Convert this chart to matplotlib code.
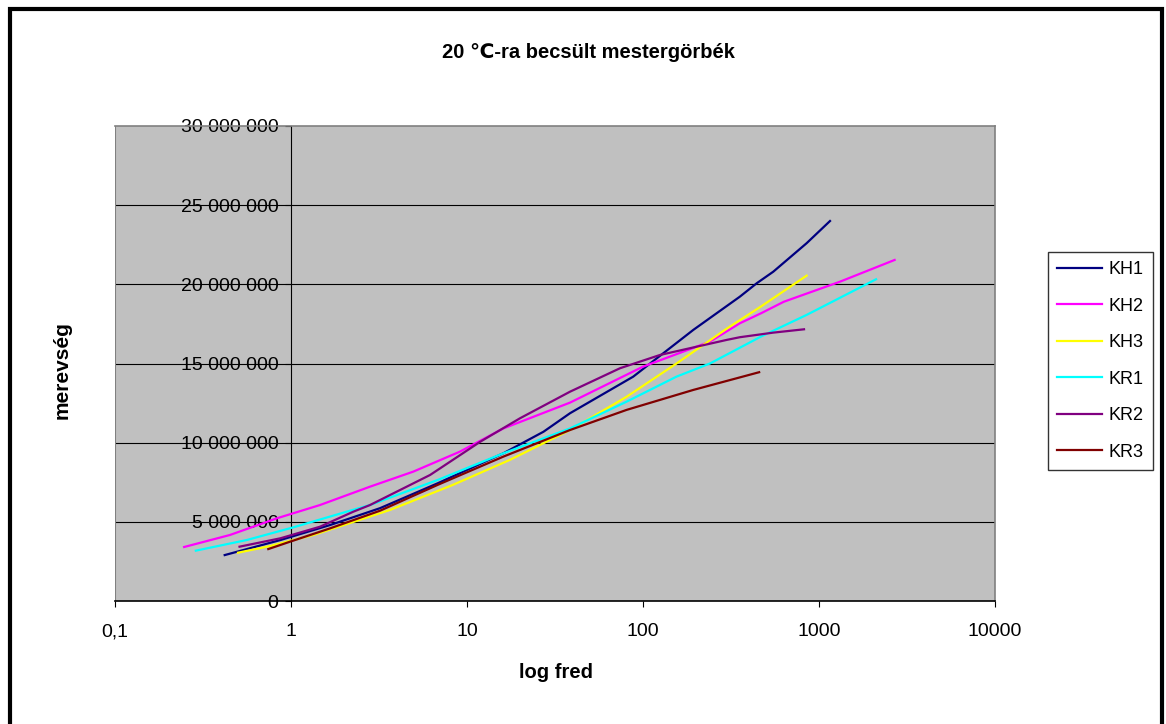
import numpy as np
import matplotlib
matplotlib.use("Agg")
import matplotlib.pyplot as plt
from matplotlib.patches import Rectangle
from matplotlib.ticker import FuncFormatter

plt.rcParams["font.family"] = ["Liberation Sans", "DejaVu Sans"]

# ── data (frequency, stiffness in millions) ──────────────────────────────────

SERIES = ["KH1", "KH2", "KH3", "KR1", "KR2", "KR3"]
COLORS = ["#000080", "#FF00FF", "#FFFF00", "#00FFFF", "#800080", "#800000"]

kh1_f = [0.42, 0.87, 1.67, 3.2, 6.8, 16.1, 27.2, 38.5, 88, 193, 355, 443, 550, 851, 1155]
kh1_v = [2.9, 3.85, 4.8, 5.86, 7.43, 9.33, 10.69, 11.86, 14.17, 17.12, 19.22, 20.07, 20.8, 22.6, 24.0]

kh2_f = [0.247, 0.45, 0.83, 1.46, 2.81, 4.95, 9.1, 16.1, 38.5, 100, 240, 355, 468, 631, 1318, 2690]
kh2_v = [3.41, 4.17, 5.22, 6.06, 7.22, 8.17, 9.43, 10.9, 12.53, 14.8, 16.38, 17.54, 18.17, 18.9, 20.17, 21.54]

kh3_f = [0.50, 0.76, 1.34, 3.65, 8.3, 17.5, 38.5, 80.7, 155, 299, 468, 851]
kh3_v = [3.05, 3.47, 4.17, 5.75, 7.33, 8.91, 10.8, 12.9, 15.0, 17.2, 18.6, 20.55]

kr1_f = [0.288, 0.56, 1.03, 2.07, 2.81, 6.8, 16.1, 38.5, 80.7, 155, 240, 468, 851, 2109]
kr1_v = [3.18, 3.85, 4.65, 5.64, 6.06, 7.64, 9.33, 10.9, 12.59, 14.17, 15.0, 16.7, 18.07, 20.32]

kr2_f = [0.51, 0.87, 1.46, 2.26, 2.81, 6.17, 11.9, 20, 38.5, 74, 125, 299, 355, 550, 822]
kr2_v = [3.43, 3.96, 4.69, 5.64, 6.06, 7.96, 10.06, 11.54, 13.22, 14.7, 15.54, 16.49, 16.66, 16.95, 17.16]

kr3_f = [0.743, 0.99, 1.67, 3.2, 6.8, 16.1, 38.5, 80.7, 193, 457]
kr3_v = [3.28, 3.75, 4.59, 5.7, 7.33, 9.12, 10.8, 12.07, 13.33, 14.45]

X_TICKS = [0.1, 1, 10, 100, 1000, 10000]
X_LABELS = ["0,1", "1", "10", "100", "1000", "10000"]
Y_TICKS = [0, 5e6, 10e6, 15e6, 20e6, 25e6, 30e6]

# ── figure ────────────────────────────────────────────────────────────────────

fig = plt.figure(figsize=(11.66, 7.24), dpi=100)
fig.patch.set_facecolor("white")
ax = fig.add_axes([115 / 1166, 1 - 601 / 724, 880 / 1166, 475 / 724])
ax.set_facecolor("#C0C0C0")

xs = [kh1_f, kh2_f, kh3_f, kr1_f, kr2_f, kr3_f]
ys = [kh1_v, kh2_v, kh3_v, kr1_v, kr2_v, kr3_v]
for name, col, f, v in zip(SERIES, COLORS, xs, ys):
    ax.plot(f, np.array(v) * 1e6, color=col, lw=1.6, label=name, zorder=3)

ax.set_xscale("log")
ax.set_xlim(0.1, 10000)
ax.set_ylim(0, 30e6)
ax.set_xticks(X_TICKS)
ax.set_xticklabels(X_LABELS)
ax.minorticks_off()
ax.set_yticks(Y_TICKS)
ax.yaxis.set_major_formatter(FuncFormatter(lambda v, p: f"{int(v):,}".replace(",", " ")))

for y in Y_TICKS[1:-1]:
    ax.axhline(y, color="black", lw=0.8, zorder=1)

ax.spines["left"].set_position(("data", 1))
ax.spines["left"].set_linewidth(0.8)
ax.spines["bottom"].set_linewidth(1.2)
for s in ("top", "right"):
    ax.spines[s].set_color("#808080")
    ax.spines[s].set_linewidth(1.2)
ax.axvline(0.1, color="#808080", lw=1.5, zorder=2)

ax.tick_params(axis="y", direction="out", length=4, width=0.8, pad=5, labelsize=14)
ax.tick_params(axis="x", direction="out", length=4, width=0.8, pad=12, labelsize=14)

fig.text(0.505, 1 - 52 / 724, "20 \u2103-ra becsült mestergörbék", ha="center",
         va="center", fontsize=14.5, fontweight="bold")
fig.text(556 / 1166, 1 - 673 / 724, "log fred", ha="center", va="center",
         fontsize=14.5, fontweight="bold")
fig.text(62 / 1166, 1 - 370 / 724, "merevség", ha="center", va="center",
         rotation=90, fontsize=15, fontweight="bold")

leg = fig.legend(loc="upper left", bbox_to_anchor=(1048 / 1166, 1 - 252 / 724),
                 bbox_transform=fig.transFigure, borderaxespad=0, fontsize=13,
                 frameon=True, fancybox=False, edgecolor="black",
                 handlelength=2.5, handletextpad=0.35, labelspacing=1.08,
                 borderpad=0.5)
leg.get_frame().set_linewidth(1.0)

# outer chart border
fig.patches.append(Rectangle((10 / 1166, -0.05), 1152 / 1166, 1.05 - 9 / 724,
                             transform=fig.transFigure, fill=False,
                             edgecolor="black", lw=3))

fig.savefig("out.png", dpi=100)
